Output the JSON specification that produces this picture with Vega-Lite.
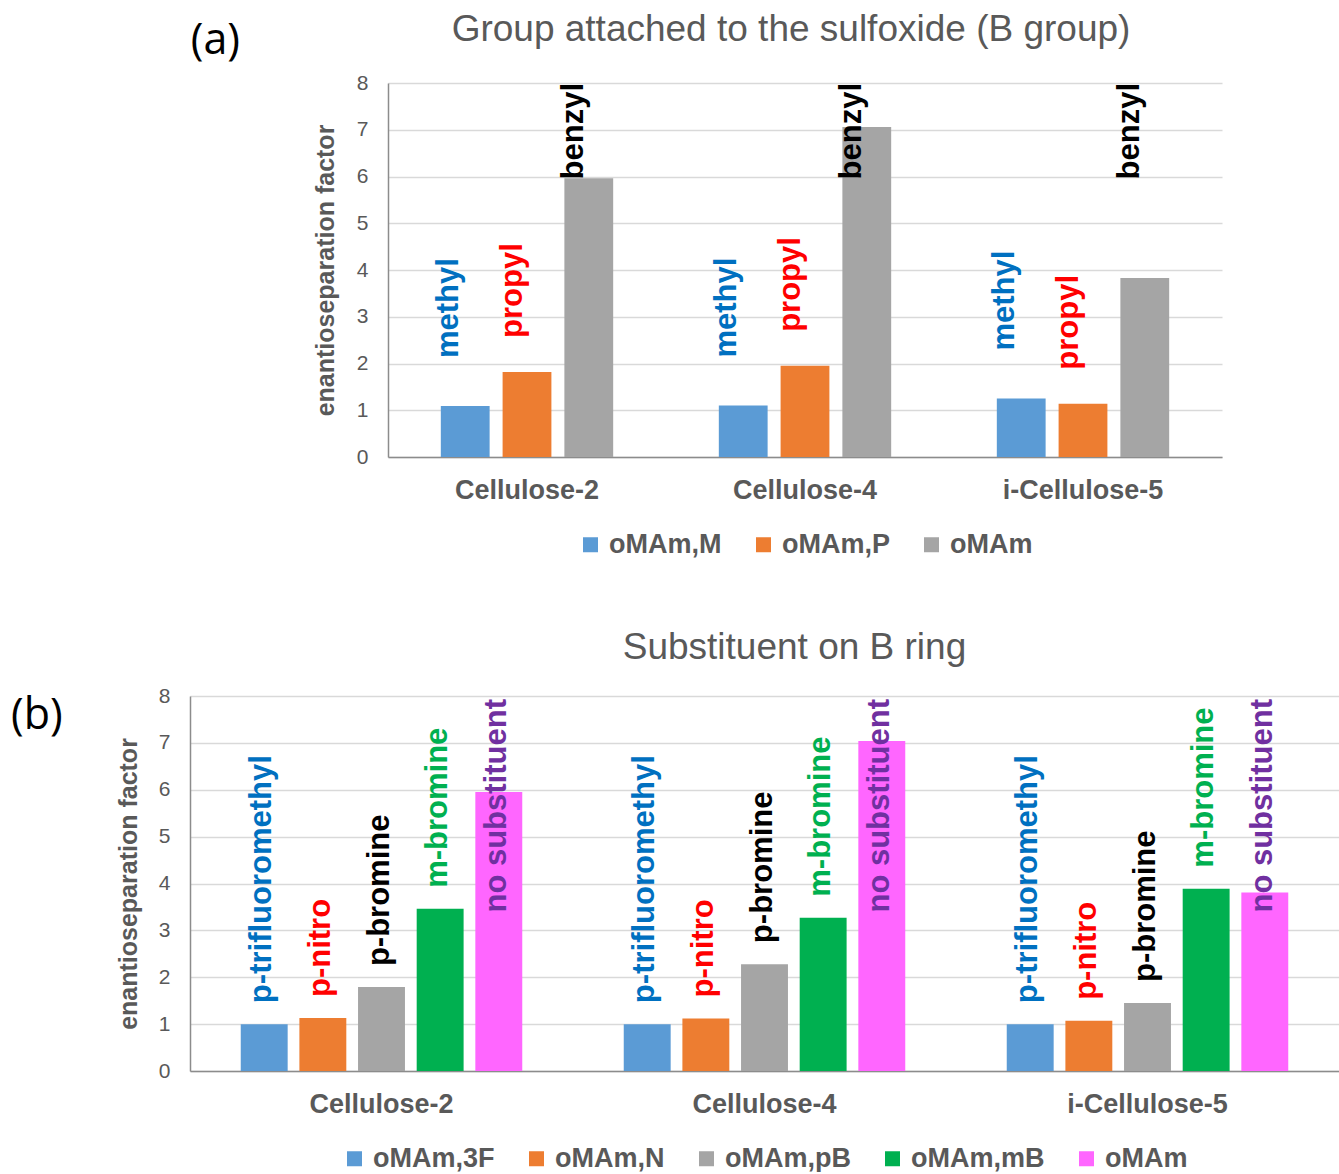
{
  "$schema": "https://vega.github.io/schema/vega-lite/v6.json",
  "background": "white",
  "padding": {"left": 11, "top": 11, "right": 0, "bottom": 0},
  "datasets": {
    "a": [
      {"cellulose": "Cellulose-2", "series": "oMAm,M", "value": 1.09, "label": "methyl"},
      {"cellulose": "Cellulose-2", "series": "oMAm,P", "value": 1.82, "label": "propyl"},
      {"cellulose": "Cellulose-2", "series": "oMAm", "value": 5.96, "label": "benzyl"},
      {"cellulose": "Cellulose-4", "series": "oMAm,M", "value": 1.1, "label": "methyl"},
      {"cellulose": "Cellulose-4", "series": "oMAm,P", "value": 1.95, "label": "propyl"},
      {"cellulose": "Cellulose-4", "series": "oMAm", "value": 7.06, "label": "benzyl"},
      {"cellulose": "i-Cellulose-5", "series": "oMAm,M", "value": 1.25, "label": "methyl"},
      {"cellulose": "i-Cellulose-5", "series": "oMAm,P", "value": 1.14, "label": "propyl"},
      {"cellulose": "i-Cellulose-5", "series": "oMAm", "value": 3.83, "label": "benzyl"}
    ],
    "b": [
      {"cellulose": "Cellulose-2", "series": "oMAm,3F", "value": 1.0, "label": "p-trifluoromethyl"},
      {"cellulose": "Cellulose-2", "series": "oMAm,N", "value": 1.13, "label": "p-nitro"},
      {"cellulose": "Cellulose-2", "series": "oMAm,pB", "value": 1.79, "label": "p-bromine"},
      {"cellulose": "Cellulose-2", "series": "oMAm,mB", "value": 3.46, "label": "m-bromine"},
      {"cellulose": "Cellulose-2", "series": "oMAm", "value": 5.95, "label": "no substituent"},
      {"cellulose": "Cellulose-4", "series": "oMAm,3F", "value": 1.0, "label": "p-trifluoromethyl"},
      {"cellulose": "Cellulose-4", "series": "oMAm,N", "value": 1.12, "label": "p-nitro"},
      {"cellulose": "Cellulose-4", "series": "oMAm,pB", "value": 2.28, "label": "p-bromine"},
      {"cellulose": "Cellulose-4", "series": "oMAm,mB", "value": 3.27, "label": "m-bromine"},
      {"cellulose": "Cellulose-4", "series": "oMAm", "value": 7.04, "label": "no substituent"},
      {"cellulose": "i-Cellulose-5", "series": "oMAm,3F", "value": 1.0, "label": "p-trifluoromethyl"},
      {"cellulose": "i-Cellulose-5", "series": "oMAm,N", "value": 1.07, "label": "p-nitro"},
      {"cellulose": "i-Cellulose-5", "series": "oMAm,pB", "value": 1.45, "label": "p-bromine"},
      {"cellulose": "i-Cellulose-5", "series": "oMAm,mB", "value": 3.89, "label": "m-bromine"},
      {"cellulose": "i-Cellulose-5", "series": "oMAm", "value": 3.81, "label": "no substituent"}
    ]
  },
  "config": {
    "view": {"stroke": null},
    "axis": {
      "labelFont": "Liberation Sans",
      "labelColor": "#595959",
      "titleFont": "Liberation Sans",
      "titleColor": "#595959",
      "domainColor": "#8C8C8C",
      "domainWidth": 1.5,
      "ticks": false,
      "gridColor": "#D9D9D9",
      "gridWidth": 1.5
    },
    "axisX": {"labelFontSize": 27, "labelFontWeight": "bold", "labelAngle": 0, "labelPadding": 20, "grid": false},
    "legend": {
      "orient": "bottom",
      "direction": "horizontal",
      "symbolType": "square",
      "symbolSize": 225,
      "symbolStrokeWidth": 0,
      "labelFont": "Liberation Sans",
      "labelFontSize": 27,
      "labelFontWeight": "bold",
      "labelColor": "#595959",
      "labelOffset": 5,
      "columnPadding": 28,
      "offset": 28,
      "layout": {"bottom": {"anchor": "middle"}}
    }
  },
  "align": "none",
  "spacing": 71,
  "resolve": {"scale": {"color": "independent", "x": "independent", "y": "independent", "xOffset": "independent"}, "legend": {"color": "independent"}},
  "vconcat": [
    {
      "align": "each",
      "bounds": "flush",
      "spacing": 148,
      "resolve": {"scale": {"color": "independent"}, "legend": {"color": "independent"}},
      "hconcat": [
        {
          "width": 229,
          "height": 10,
          "data": {"values": []},
          "mark": {"type": "point", "opacity": 0},
          "encoding": {},
          "title": {"text": "(a)", "anchor": "end", "frame": "group", "orient": "top", "baseline": "alphabetic", "offset": -14, "fontSize": 43, "font": "Open Sans", "fontWeight": "normal", "color": "#000000"}
        },
        {
          "width": 834,
          "height": 374,
          "data": {"name": "a"},
          "title": {"text": "Group attached to the sulfoxide (B group)", "frame": "group", "anchor": "middle", "baseline": "alphabetic", "offset": -6, "dx": -14, "fontSize": 37, "fontWeight": "normal", "color": "#595959", "font": "Liberation Sans"},
          "encoding": {
            "x": {"field": "cellulose", "type": "nominal", "scale": {"domain": ["Cellulose-2", "Cellulose-4", "i-Cellulose-5"], "paddingInner": 0.38, "paddingOuter": 0.19}, "axis": {"title": null}},
            "xOffset": {"field": "series", "type": "nominal", "scale": {"domain": ["oMAm,M", "oMAm,P", "oMAm"], "paddingInner": 0.21, "paddingOuter": 0}},
            "y": {"field": "value", "type": "quantitative", "scale": {"domain": [0, 8], "nice": false}, "axis": {"title": "enantioseparation factor", "values": [0, 1, 2, 3, 4, 5, 6, 7, 8], "grid": true, "labelFontSize": 21, "labelPadding": 20, "titleFontSize": 25, "titleFontWeight": "bold", "titlePadding": 18}}
          },
          "layer": [
            {
              "mark": {"type": "bar"},
              "encoding": {
                "color": {"field": "series", "type": "nominal", "scale": {"domain": ["oMAm,M", "oMAm,P", "oMAm"], "range": ["#5B9BD5", "#ED7D31", "#A5A5A5"]}, "legend": {"title": null}}
              }
            },
            {
              "transform": [{"filter": "datum.series === 'oMAm,M'"}],
              "mark": {"type": "text", "angle": 270, "align": "left", "baseline": "middle", "dx": 48, "dy": -16, "fontSize": 31, "fontWeight": "bold", "font": "Liberation Sans", "color": "#0070C0"},
              "encoding": {"text": {"field": "label"}}
            },
            {
              "transform": [{"filter": "datum.series === 'oMAm,P'"}],
              "mark": {"type": "text", "angle": 270, "align": "left", "baseline": "middle", "dx": 34, "dy": -14, "fontSize": 31, "fontWeight": "bold", "font": "Liberation Sans", "color": "#FF0000"},
              "encoding": {"text": {"field": "label"}}
            },
            {
              "transform": [{"filter": "datum.series === 'oMAm'"}],
              "mark": {"type": "text", "angle": 270, "align": "right", "baseline": "middle", "dx": 0, "dy": -15, "fontSize": 31, "fontWeight": "bold", "font": "Liberation Sans", "color": "#000000"},
              "encoding": {"y": {"datum": 8, "type": "quantitative", "axis": {"title": "enantioseparation factor", "values": [0, 1, 2, 3, 4, 5, 6, 7, 8], "grid": true, "labelFontSize": 21, "labelPadding": 20, "titleFontSize": 25, "titleFontWeight": "bold", "titlePadding": 18}}, "text": {"field": "label"}}
            }
          ]
        }
      ]
    },
    {
      "align": "each",
      "bounds": "flush",
      "spacing": 0,
      "resolve": {"scale": {"color": "independent"}, "legend": {"color": "independent"}},
      "hconcat": [
        {
          "width": 179,
          "height": 20,
          "data": {"values": []},
          "mark": {"type": "point", "opacity": 0},
          "encoding": {},
          "title": {"text": "(b)", "anchor": "start", "frame": "group", "orient": "bottom", "baseline": "alphabetic", "offset": 13, "fontSize": 43, "font": "Open Sans", "fontWeight": "normal", "color": "#000000"}
        },
        {
          "width": 1149,
          "height": 375,
          "data": {"name": "b"},
          "title": {"text": "Substituent on B ring", "frame": "group", "anchor": "middle", "baseline": "alphabetic", "offset": -11, "dx": 30, "fontSize": 37, "fontWeight": "normal", "color": "#595959", "font": "Liberation Sans"},
          "encoding": {
            "x": {"field": "cellulose", "type": "nominal", "scale": {"domain": ["Cellulose-2", "Cellulose-4", "i-Cellulose-5"], "paddingInner": 0.265, "paddingOuter": 0.1325}, "axis": {"title": null}},
            "xOffset": {"field": "series", "type": "nominal", "scale": {"domain": ["oMAm,3F", "oMAm,N", "oMAm,pB", "oMAm,mB", "oMAm"], "paddingInner": 0.2, "paddingOuter": 0}},
            "y": {"field": "value", "type": "quantitative", "scale": {"domain": [0, 8], "nice": false}, "axis": {"title": "enantioseparation factor", "values": [0, 1, 2, 3, 4, 5, 6, 7, 8], "grid": true, "labelFontSize": 21, "labelPadding": 20, "titleFontSize": 25, "titleFontWeight": "bold", "titlePadding": 17}}
          },
          "resolve": {"scale": {"color": "independent"}},
          "layer": [
            {
              "mark": {"type": "bar"},
              "encoding": {
                "color": {"field": "series", "type": "nominal", "scale": {"domain": ["oMAm,3F", "oMAm,N", "oMAm,pB", "oMAm,mB", "oMAm"], "range": ["#5B9BD5", "#ED7D31", "#A5A5A5", "#00B050", "#FF66FF"]}, "legend": {"title": null}}
              }
            },
            {
              "transform": [{"filter": "datum.series !== 'oMAm'"}],
              "mark": {"type": "text", "angle": 270, "align": "left", "baseline": "middle", "dx": 21, "dy": -2, "fontSize": 31, "fontWeight": "bold", "font": "Liberation Sans"},
              "encoding": {
                "text": {"field": "label"},
                "color": {"field": "series", "type": "nominal", "scale": {"domain": ["oMAm,3F", "oMAm,N", "oMAm,pB", "oMAm,mB"], "range": ["#0070C0", "#FF0000", "#000000", "#00B050"]}, "legend": null}
              }
            },
            {
              "transform": [{"filter": "datum.series === 'oMAm'"}],
              "mark": {"type": "text", "angle": 270, "align": "right", "baseline": "middle", "dx": -3, "dy": -2, "fontSize": 31, "fontWeight": "bold", "font": "Liberation Sans", "color": "#7030A0"},
              "encoding": {"y": {"datum": 8, "type": "quantitative", "axis": {"title": "enantioseparation factor", "values": [0, 1, 2, 3, 4, 5, 6, 7, 8], "grid": true, "labelFontSize": 21, "labelPadding": 20, "titleFontSize": 25, "titleFontWeight": "bold", "titlePadding": 17}}, "text": {"field": "label"}}
            }
          ]
        }
      ]
    }
  ]
}
